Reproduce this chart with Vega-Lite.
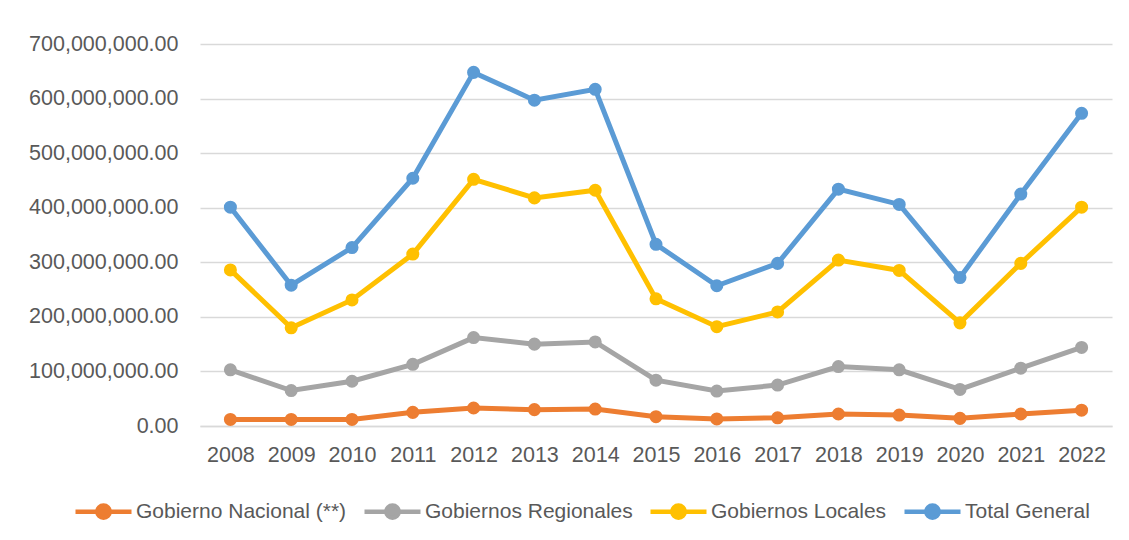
{
  "$schema": "https://vega.github.io/schema/vega-lite/v6.json",
  "width": 912,
  "height": 382,
  "autosize": {"type": "none"},
  "padding": {"left": 200, "top": 44, "right": 17, "bottom": 114},
  "background": "white",
  "config": {"view": {"stroke": null}, "font": "Liberation Sans"},
  "data": {
    "values": [
      {"year": "2008", "serie": "Gobierno Nacional (**)", "value": 12000000},
      {"year": "2009", "serie": "Gobierno Nacional (**)", "value": 12000000},
      {"year": "2010", "serie": "Gobierno Nacional (**)", "value": 12000000},
      {"year": "2011", "serie": "Gobierno Nacional (**)", "value": 25000000},
      {"year": "2012", "serie": "Gobierno Nacional (**)", "value": 33000000},
      {"year": "2013", "serie": "Gobierno Nacional (**)", "value": 30000000},
      {"year": "2014", "serie": "Gobierno Nacional (**)", "value": 31000000},
      {"year": "2015", "serie": "Gobierno Nacional (**)", "value": 17000000},
      {"year": "2016", "serie": "Gobierno Nacional (**)", "value": 13000000},
      {"year": "2017", "serie": "Gobierno Nacional (**)", "value": 15000000},
      {"year": "2018", "serie": "Gobierno Nacional (**)", "value": 22000000},
      {"year": "2019", "serie": "Gobierno Nacional (**)", "value": 20000000},
      {"year": "2020", "serie": "Gobierno Nacional (**)", "value": 14000000},
      {"year": "2021", "serie": "Gobierno Nacional (**)", "value": 22000000},
      {"year": "2022", "serie": "Gobierno Nacional (**)", "value": 29000000},
      {"year": "2008", "serie": "Gobiernos Regionales", "value": 103000000},
      {"year": "2009", "serie": "Gobiernos Regionales", "value": 65000000},
      {"year": "2010", "serie": "Gobiernos Regionales", "value": 82000000},
      {"year": "2011", "serie": "Gobiernos Regionales", "value": 113000000},
      {"year": "2012", "serie": "Gobiernos Regionales", "value": 162000000},
      {"year": "2013", "serie": "Gobiernos Regionales", "value": 150000000},
      {"year": "2014", "serie": "Gobiernos Regionales", "value": 154000000},
      {"year": "2015", "serie": "Gobiernos Regionales", "value": 84000000},
      {"year": "2016", "serie": "Gobiernos Regionales", "value": 64000000},
      {"year": "2017", "serie": "Gobiernos Regionales", "value": 75000000},
      {"year": "2018", "serie": "Gobiernos Regionales", "value": 109000000},
      {"year": "2019", "serie": "Gobiernos Regionales", "value": 103000000},
      {"year": "2020", "serie": "Gobiernos Regionales", "value": 67000000},
      {"year": "2021", "serie": "Gobiernos Regionales", "value": 106000000},
      {"year": "2022", "serie": "Gobiernos Regionales", "value": 144000000},
      {"year": "2008", "serie": "Gobiernos Locales", "value": 286000000},
      {"year": "2009", "serie": "Gobiernos Locales", "value": 180000000},
      {"year": "2010", "serie": "Gobiernos Locales", "value": 231000000},
      {"year": "2011", "serie": "Gobiernos Locales", "value": 315000000},
      {"year": "2012", "serie": "Gobiernos Locales", "value": 452000000},
      {"year": "2013", "serie": "Gobiernos Locales", "value": 418000000},
      {"year": "2014", "serie": "Gobiernos Locales", "value": 432000000},
      {"year": "2015", "serie": "Gobiernos Locales", "value": 233000000},
      {"year": "2016", "serie": "Gobiernos Locales", "value": 182000000},
      {"year": "2017", "serie": "Gobiernos Locales", "value": 209000000},
      {"year": "2018", "serie": "Gobiernos Locales", "value": 304000000},
      {"year": "2019", "serie": "Gobiernos Locales", "value": 285000000},
      {"year": "2020", "serie": "Gobiernos Locales", "value": 189000000},
      {"year": "2021", "serie": "Gobiernos Locales", "value": 298000000},
      {"year": "2022", "serie": "Gobiernos Locales", "value": 401000000},
      {"year": "2008", "serie": "Total General", "value": 401000000},
      {"year": "2009", "serie": "Total General", "value": 258000000},
      {"year": "2010", "serie": "Total General", "value": 327000000},
      {"year": "2011", "serie": "Total General", "value": 454000000},
      {"year": "2012", "serie": "Total General", "value": 648000000},
      {"year": "2013", "serie": "Total General", "value": 597000000},
      {"year": "2014", "serie": "Total General", "value": 617000000},
      {"year": "2015", "serie": "Total General", "value": 333000000},
      {"year": "2016", "serie": "Total General", "value": 257000000},
      {"year": "2017", "serie": "Total General", "value": 298000000},
      {"year": "2018", "serie": "Total General", "value": 434000000},
      {"year": "2019", "serie": "Total General", "value": 406000000},
      {"year": "2020", "serie": "Total General", "value": 272000000},
      {"year": "2021", "serie": "Total General", "value": 425000000},
      {"year": "2022", "serie": "Total General", "value": 573000000}
    ]
  },
  "mark": {"type": "line", "strokeWidth": 5, "point": {"filled": true, "size": 170, "opacity": 1}},
  "encoding": {
    "x": {
      "field": "year",
      "type": "ordinal",
      "scale": {"type": "point", "padding": 0.5},
      "axis": {
        "title": null,
        "labelAngle": 0,
        "ticks": false,
        "domainColor": "#D9D9D9",
        "domainWidth": 1.3,
        "labelFontSize": 21.5,
        "labelColor": "#595959",
        "labelPadding": 18,
        "grid": false
      }
    },
    "y": {
      "field": "value",
      "type": "quantitative",
      "scale": {"domain": [0, 700000000], "nice": false},
      "axis": {
        "title": null,
        "format": ",.2f",
        "values": [0, 100000000, 200000000, 300000000, 400000000, 500000000, 600000000, 700000000],
        "domain": false,
        "ticks": false,
        "gridColor": "#D9D9D9",
        "gridWidth": 1.3,
        "labelFontSize": 21.5,
        "labelColor": "#595959",
        "labelPadding": 22
      }
    },
    "color": {
      "field": "serie",
      "type": "nominal",
      "scale": {
        "domain": ["Gobierno Nacional (**)", "Gobiernos Regionales", "Gobiernos Locales", "Total General"],
        "range": ["#ED7D31", "#A5A5A5", "#FFC000", "#5B9BD5"]
      },
      "legend": {
        "title": null,
        "orient": "none",
        "direction": "horizontal",
        "legendX": -127,
        "legendY": 437,
        "labelFontSize": 21,
        "labelLimit": 0,
        "labelColor": "#595959",
        "labelOffset": 2,
        "columnPadding": 8,
        "symbolType": "M-1,0L1,0M-0.22,0A0.22,0.22,0,1,0,0.22,0A0.22,0.22,0,1,0,-0.22,0Z",
        "symbolSize": 3136,
        "symbolStrokeWidth": 4.5,
        "encode": {
          "symbols": {
            "update": {
              "fill": {"scale": "color", "field": "value"},
              "stroke": {"scale": "color", "field": "value"},
              "strokeWidth": {"value": 4.5},
              "opacity": {"value": 1}
            }
          }
        }
      }
    }
  }
}
